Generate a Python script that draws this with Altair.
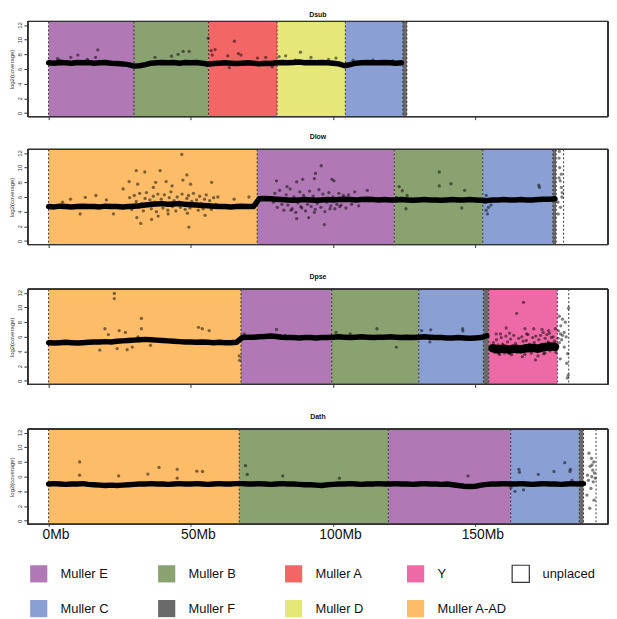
import altair as alt
import pandas as pd

FONT = "Liberation Sans"

# ---------------- categories / colours ----------------
LEGEND_NAMES = ["Muller E", "Muller B", "Muller A", "Y", "unplaced",
                "Muller C", "Muller F", "Muller D", "Muller A-AD"]
LEGEND_COLORS = ["#B078B4", "#8AA270", "#F26666", "#EE6AA6", "#FFFFFF",
                 "#8AA0D4", "#6A6A6A", "#E5E778", "#FDBC68"]

X_TICKS = [0, 50, 100, 150]
Y_TICKS = [0, 2, 4, 6, 8, 10, 12]
BAND_STEP = 2  # Mb between coverage windows of the dense band

# ---------------- element layout per species (Mb) ----------------
DSUB_NAMES = ["Muller E", "Muller B", "Muller A", "Muller D", "Muller C", "Muller F"]
DSUB_BOUNDS = [0, 30.0, 56.2, 80.3, 104.3, 124.5, 125.9]
DLOW_NAMES = ["Muller A-AD", "Muller E", "Muller B", "Muller C", "Muller F", "unplaced"]
DLOW_BOUNDS = [0, 73.3, 121.5, 152.6, 177.2, 178.4, 181.0]
DPSE_NAMES = ["Muller A-AD", "Muller E", "Muller B", "Muller C", "Muller F", "Y", "unplaced"]
DPSE_BOUNDS = [0, 67.6, 99.5, 130.1, 152.8, 154.7, 178.8, 182.8]
DATH_NAMES = ["Muller A-AD", "Muller B", "Muller E", "Muller C", "Muller F", "unplaced"]
DATH_BOUNDS = [0, 67.0, 119.4, 162.4, 186.5, 188.0, 192.4]

# ---------------- dense coverage band (log2 coverage) ----------------
DSUB_BAND = [6.85, 6.8, 6.9, 6.85, 6.8, 6.9, 6.85, 6.9, 6.8, 6.85, 6.9, 6.8, 6.75, 6.7, 6.6,
             6.4, 6.45, 6.6,
             6.8, 6.85, 6.9, 6.85, 6.9, 6.8, 6.9, 6.85, 6.9, 6.8,
             6.65, 6.75, 6.8, 6.85, 6.8, 6.75, 6.8, 6.85, 6.8, 6.7, 6.8, 6.75,
             6.85, 6.9, 6.85, 6.9, 6.95, 6.85, 6.9, 6.85, 6.9, 6.85, 6.8, 6.7,
             6.45, 6.6, 6.8, 6.85, 6.9, 6.85, 6.85, 6.9, 6.85, 6.8, 6.85]
DLOW_BAND = [4.7, 4.65, 4.75, 4.7, 4.65, 4.7, 4.75, 4.7, 4.7, 4.65,
             4.75, 4.7, 4.7, 4.65, 4.7, 4.75, 4.8, 4.9, 5.0, 5.05,
             5.1, 5.0, 5.05, 5.1, 5.0, 4.95, 4.9, 4.85, 4.8, 4.75,
             4.7, 4.7, 4.65, 4.7, 4.75, 4.7, 4.7,
             5.75, 5.8, 5.75, 5.7, 5.65, 5.6, 5.55, 5.6, 5.65, 5.6,
             5.55, 5.6, 5.65, 5.6, 5.65, 5.7, 5.65, 5.6, 5.65, 5.7,
             5.65, 5.6, 5.65, 5.6,
             5.6, 5.65, 5.6, 5.55, 5.6, 5.65, 5.6, 5.6, 5.55, 5.6, 5.65, 5.6, 5.6, 5.65, 5.6, 5.55,
             5.5, 5.6, 5.6, 5.65, 5.6, 5.6, 5.65, 5.6, 5.6, 5.65, 5.7, 5.7,
             5.75]
DPSE_BAND = [5.2, 5.15, 5.2, 5.25, 5.2, 5.15, 5.2, 5.25, 5.3, 5.3,
             5.35, 5.3, 5.4, 5.45, 5.5, 5.55, 5.6, 5.65, 5.6, 5.55,
             5.5, 5.45, 5.4, 5.35, 5.3, 5.3, 5.25, 5.3, 5.25, 5.2,
             5.25, 5.2, 5.2, 5.25,
             5.9, 5.95, 5.95, 6.0, 6.05, 6.1, 6.05, 5.95, 5.9, 5.9, 5.85, 5.9, 5.9, 5.85, 5.9, 5.9,
             5.95, 6.0, 5.95, 5.9, 5.95, 6.0, 5.95, 5.9, 5.95, 5.95, 6.0, 5.95, 5.9, 5.95, 5.9, 5.95,
             6.0, 5.95, 5.9, 5.9, 5.85, 5.85, 5.9, 5.85, 5.8, 5.85, 5.9,
             6.15]
DPSE_Y_START = 156
DPSE_Y_BAND = [4.45, 4.3, 4.4, 4.25, 4.4, 4.3, 4.45, 4.5, 4.4, 4.6, 4.7, 4.65]
DATH_BAND = [5.0, 5.05, 5.0, 4.95, 5.0, 5.0, 5.05, 4.95, 4.9, 4.85,
             4.8, 4.85, 4.8, 4.85, 4.9, 4.95, 5.0, 5.0, 5.05, 5.0,
             5.0, 4.95, 5.0, 5.05, 5.0, 5.0, 5.05, 5.0, 4.95, 5.0,
             5.05, 5.0, 5.0, 5.05,
             5.05, 5.0, 5.0, 5.05, 5.0, 4.95, 5.0, 5.05, 5.0, 5.0,
             4.95, 4.9, 4.9, 4.85, 4.8, 4.9, 4.95, 5.0, 5.0, 5.05,
             5.0, 4.95, 5.0, 5.0, 5.05, 5.0,
             5.0, 5.05, 5.0, 5.0, 4.95, 5.0, 5.05, 5.0, 5.0, 4.95,
             5.0, 4.9, 4.8, 4.7, 4.65, 4.7, 4.85, 4.95, 5.0, 5.0,
             5.05, 5.0,
             5.0, 5.05, 5.0, 4.95, 5.0, 5.05, 5.0, 5.0, 4.95, 5.0, 5.05, 5.0,
             5.05]

# ---------------- individual scattered windows: position (Mb), log2 coverage ----------------
DSUB_PTS_X = [3.1, 3.8, 7.8, 10.3, 13.6, 16.5, 17.3, 37.4, 43.2, 45.5, 47.3, 49.4,
              56.1, 57.1, 57.5, 58.5, 63.0, 63.5, 65.3, 66.7, 67.6, 73.4, 76.3, 78.6,
              81.0, 83.3, 86.8, 88.5, 92.2, 98.4, 101.0, 107.0, 114.0, 121.0]
DSUB_PTS_Y = [7.4, 7.2, 7.6, 7.9, 7.3, 7.6, 8.6, 7.6, 7.75, 8.0, 8.4, 8.4,
              10.2, 8.5, 7.9, 8.65, 7.8, 6.2, 9.8, 8.1, 7.9, 7.5, 7.6, 6.3,
              7.7, 7.8, 7.2, 8.3, 7.6, 7.3, 7.5, 7.2, 7.2, 7.1]

DLOW_PTS_X = [46.8, 30.8, 33.8, 39.2, 48.6, 28.3, 31.3, 37.6, 41.3, 43.4, 47.2, 49.9, 57.3,
              26.2, 36.8, 48.8, 49.3, 32.4, 31.0, 36.2, 38.5, 42.0, 55.0, 22.8, 11.1,
              7.7, 12.9, 16.6, 20.3, 65.2, 70.4, 4.9,
              28.5, 29.2, 30.1, 30.8, 31.5, 32.0, 32.6, 33.3, 33.9, 34.4, 35.0, 35.6, 36.1,
              36.8, 37.3, 37.9, 38.4, 39.0, 39.6, 40.2, 40.7, 41.3, 41.9, 42.4, 43.0, 43.5,
              44.1, 44.7, 45.2, 45.8, 46.3, 46.9, 47.5, 48.0, 48.6, 49.2, 49.7, 50.3, 50.9,
              51.4, 52.0, 52.6, 53.1, 53.7, 54.3, 54.8, 55.4, 56.0, 56.6, 57.2, 58.0, 58.8, 59.5,
              95.8, 93.8, 93.4, 89.3, 99.6, 100.3, 80.1, 87.2, 112.0, 83.8, 96.9, 87.2, 91.4,
              93.4, 85.2, 88.6, 98.9, 102.3, 79.0,
              79.5, 80.4, 81.2, 82.0, 82.7, 83.5, 84.1, 84.9, 85.6, 86.2, 86.9, 87.6, 88.3,
              89.0, 89.6, 90.3, 91.0, 91.7, 92.3, 93.0, 93.7, 94.4, 95.0, 95.7, 96.4, 97.1,
              97.8, 98.5, 99.2, 99.9, 100.6, 101.3, 102.0, 102.8, 103.6, 104.5, 105.4, 106.5,
              107.6, 109.0,
              123.2, 124.3, 137.3, 141.4, 146.2, 125.6, 137.3, 145.2, 122.2, 126.0,
              172.3, 172.5, 153.1, 153.8, 154.6, 154.2, 155.5, 153.8,
              179.5, 180.2, 179.4, 179.8, 180.4, 179.1, 179.6, 180.2, 179.0, 179.9, 179.4, 180.5]
DLOW_PTS_Y = [11.8, 9.6, 9.4, 9.6, 9.0, 8.1, 7.75, 8.0, 8.1, 7.5, 8.3, 7.75, 8.0,
              7.1, 7.3, 3.8, 1.9, 2.4, 3.2, 2.95, 3.4, 3.7, 3.5, 3.7, 3.7,
              5.7, 5.95, 6.2, 5.6, 5.7, 6.0, 5.3,
              5.9, 4.3, 6.2, 5.4, 4.6, 6.5, 5.1, 4.1, 5.8, 6.6, 4.8, 5.6, 4.4,
              6.1, 5.3, 4.0, 6.4, 5.0, 5.7, 4.5, 6.3, 5.2, 4.2, 5.9, 6.7, 4.7,
              5.5, 4.1, 6.0, 5.3, 4.6, 6.4, 5.0, 4.3, 5.8, 6.2, 4.5, 5.4, 6.5,
              4.8, 5.6, 4.2, 6.1, 5.1, 4.4, 5.7, 6.3, 4.9, 5.5, 4.3, 5.9, 5.0, 6.0,
              10.25, 9.2, 8.5, 8.4, 8.4, 8.2, 8.2, 8.05, 6.9, 7.4, 2.25, 3.05, 3.2,
              3.9, 4.2, 4.7, 4.4, 4.7, 5.3,
              6.5, 4.6, 6.9, 5.0, 4.2, 6.3, 4.9, 7.1, 4.4, 6.0, 3.9, 5.2, 6.7,
              4.5, 6.2, 4.1, 5.0, 6.8, 4.7, 6.1, 4.3, 5.1, 7.0, 4.6, 6.4, 4.0,
              5.3, 6.6, 4.8, 6.0, 4.4, 5.0, 6.5, 4.9, 6.2, 4.5, 6.3, 5.0,
              6.7, 4.8,
              7.4, 6.85, 9.4, 7.8, 6.9, 4.4, 7.5, 4.5, 5.95, 6.2,
              7.6, 7.3, 5.3, 4.2, 4.6, 3.7, 4.9, 6.2,
              12.2, 9.1, 8.6, 8.2, 6.0, 3.7, 10.0, 7.3, 5.3, 4.6, 11.3, 6.6]

DPSE_PTS_X = [23.1, 23.1, 32.6, 19.8, 24.8, 32.6, 52.7, 54.0, 56.4, 18.0, 24.1, 27.6,
              29.4, 35.8, 67.1, 67.0, 21.0, 31.4, 27.0,
              80.1, 83.1, 68.8, 115.4, 122.2, 101.0, 106.0,
              134.3, 131.1, 145.5, 145.6, 134.0,
              166.9, 164.5, 160.8, 167.4, 170.5, 173.4, 175.7, 157.3, 178.1,
              166.5, 171.1, 172.0, 162.7, 174.4, 158.0,
              156.3, 156.8, 157.4, 158.0, 158.5, 159.1, 159.6, 160.2, 160.7, 161.3, 161.9,
              162.4, 163.0, 163.5, 164.1, 164.6, 165.2, 165.7, 166.3, 166.8, 167.4, 167.9,
              168.5, 169.0, 169.6, 170.1, 170.7, 171.2, 171.8, 172.3, 172.9, 173.4, 174.0,
              174.5, 175.1, 175.6, 176.2, 176.7, 177.3, 177.8, 178.3, 158.8, 162.0, 168.0,
              173.8, 176.0,
              179.5, 180.6, 181.6, 180.0, 179.2, 181.2, 179.9, 180.6, 181.9, 179.1, 180.3,
              179.5, 181.2, 182.4, 179.8, 182.1, 182.6, 182.3, 182.7]
DPSE_PTS_Y = [11.9, 11.2, 8.5, 7.1, 6.85, 7.1, 7.3, 7.1, 6.85, 4.2, 4.4, 4.25,
              4.6, 4.85, 2.8, 3.4, 6.3, 6.0, 6.6,
              7.0, 6.2, 6.4, 7.1, 4.6, 6.6, 6.4,
              6.95, 6.85, 7.1, 6.8, 5.3,
              10.7, 9.2, 7.2, 7.1, 7.1, 7.0, 6.85, 6.4, 7.1,
              3.3, 2.85, 3.4, 3.55, 3.8, 3.8,
              5.2, 3.9, 5.6, 4.9, 3.6, 5.9, 5.0, 3.8, 6.1, 5.3, 3.7,
              5.7, 4.8, 6.2, 5.1, 3.9, 5.8, 4.7, 6.0, 5.4, 3.6, 5.5,
              6.3, 5.0, 3.8, 5.9, 5.2, 6.1, 4.0, 5.6, 6.2, 5.0, 3.7,
              5.8, 6.3, 5.3, 4.1, 5.9, 6.0, 5.4, 3.9, 6.4, 6.5, 6.4,
              6.6, 6.5,
              8.8, 8.4, 8.0, 7.5, 6.8, 6.6, 6.4, 6.2, 6.0, 5.8, 5.6,
              5.2, 4.6, 3.7, 3.0, 2.4, 0.8, 0.4, 9.9]

DATH_PTS_X = [10.9, 10.9, 24.6, 34.9, 38.8, 45.2, 45.2, 52.1, 54.1, 69.2, 69.8, 82.3,
              102.2, 147.4, 165.3, 165.5, 172.1, 177.6, 181.4, 183.4, 183.2, 163.9, 166.9,
              162.5, 183.9,
              189.9, 190.8, 191.6, 190.3, 191.2, 189.4, 190.9, 191.8, 189.7, 191.4, 190.6,
              189.2, 191.7, 190.2, 191.0, 192.1]
DATH_PTS_Y = [8.0, 6.2, 6.1, 6.35, 7.25, 7.0, 5.8, 6.75, 6.7, 7.5, 6.3, 6.1,
              5.8, 6.1, 7.0, 6.6, 6.3, 6.7, 7.9, 7.0, 6.7, 4.0, 4.2,
              4.5, 5.5,
              9.2, 8.5, 8.0, 7.4, 6.9, 6.2, 6.0, 6.5, 5.5, 5.3, 4.4,
              3.5, 2.8, 1.7, 7.6, 5.8]

# ---------------- geometry ----------------
W = 585
H = 96
X_DOMAIN = [-7.3, 196.6]
Y_DOMAIN = [-0.48, 12.48]

color_scale = alt.Scale(domain=LEGEND_NAMES, range=LEGEND_COLORS)
x_scale = alt.Scale(domain=X_DOMAIN, nice=False, zero=False)
y_scale = alt.Scale(domain=Y_DOMAIN, nice=False, zero=False)
band_width_scale = alt.Scale(domain=[0, 1], range=[5.5, 8.5])


def x_axis(bottom):
    if bottom:
        return alt.Axis(values=X_TICKS, labelExpr="datum.value + 'Mb'", labelFontSize=14,
                        labelColor="#111", tickSize=2, labelPadding=1, labelOffset=7,
                        domain=False, grid=False, title=None, tickColor="#333")
    return alt.Axis(values=X_TICKS, labels=False, tickSize=3, domain=False, grid=False,
                    title=None, tickColor="#333")


def y_axis():
    return alt.Axis(values=Y_TICKS, labelAngle=270, labelFontSize=6, labelColor="#333",
                    labelOverlap=False, labelBound=False, labelFlush=False,
                    labelAlign="center", labelBaseline="bottom",
                    tickSize=4, tickColor="#333", domain=False, grid=False,
                    title="log2(coverage)", titleFontSize=6, titleFontWeight="normal",
                    titleColor="#333", labelPadding=1, titlePadding=2)


def panel(title, names, bounds, bands, px, py, title_offset, bottom=False):
    regions = pd.DataFrame({"el": names, "start": bounds[:-1], "end": bounds[1:]})
    rules = pd.DataFrame({"pos": bounds})
    rows = []
    for seg, (start, vals) in enumerate(bands):
        for i, v in enumerate(vals):
            rows.append({"seg": seg, "pos": start + BAND_STEP * i, "cov": v})
    band = pd.DataFrame(rows)
    pts = pd.DataFrame({"pos": px, "cov": py})

    rect = alt.Chart(regions).mark_rect().encode(
        x=alt.X("start:Q", scale=x_scale, axis=x_axis(bottom)),
        x2="end:Q",
        y=alt.value(0), y2=alt.value(H),
        color=alt.Color("el:N", scale=color_scale, legend=None),
    )
    rule = alt.Chart(rules).mark_rule(color="#222", strokeWidth=0.9, strokeDash=[2, 2]).encode(
        x=alt.X("pos:Q", scale=x_scale, axis=x_axis(bottom)), y=alt.value(0), y2=alt.value(H))
    line = alt.Chart(band).mark_line(color="black", strokeJoin="round",
                                     strokeCap="round").encode(
        x=alt.X("pos:Q", scale=x_scale, axis=x_axis(bottom)),
        y=alt.Y("cov:Q", scale=y_scale, axis=y_axis()),
        detail="seg:N",
        strokeWidth=alt.StrokeWidth("seg:Q", scale=band_width_scale, legend=None),
    )
    dots = alt.Chart(pts).mark_circle(color="black", size=11, opacity=0.5).encode(
        x=alt.X("pos:Q", scale=x_scale, axis=x_axis(bottom)),
        y=alt.Y("cov:Q", scale=y_scale, axis=y_axis()),
    )
    frame = alt.Chart(regions).mark_rect(fill="transparent", stroke="#333", strokeWidth=1).encode(
        x=alt.value(0), x2=alt.value(W), y=alt.value(0), y2=alt.value(H))
    return alt.layer(rect, rule, line, dots, frame).properties(
        width=W, height=H,
        title=alt.TitleParams(title, fontSize=7, fontWeight="bold", offset=title_offset,
                              font=FONT, color="#111"),
    )


p1 = panel("Dsub", DSUB_NAMES, DSUB_BOUNDS, [(0, DSUB_BAND)], DSUB_PTS_X, DSUB_PTS_Y, 3)
p2 = panel("Dlow", DLOW_NAMES, DLOW_BOUNDS, [(0, DLOW_BAND)], DLOW_PTS_X, DLOW_PTS_Y, 9)
p3 = panel("Dpse", DPSE_NAMES, DPSE_BOUNDS, [(0, DPSE_BAND), (DPSE_Y_START, DPSE_Y_BAND)],
           DPSE_PTS_X, DPSE_PTS_Y, 9)
p4 = panel("Dath", DATH_NAMES, DATH_BOUNDS, [(0, DATH_BAND)], DATH_PTS_X, DATH_PTS_Y, 9,
           bottom=True)

# ---------------- legend ----------------
leg = pd.DataFrame({
    "name": LEGEND_NAMES,
    "col": [i % 5 for i in range(len(LEGEND_NAMES))],
    "row": [i // 5 for i in range(len(LEGEND_NAMES))],
})
leg_x = alt.Scale(domain=[0, 1, 2, 3, 4], range=[11, 140, 268, 391, 497])
leg_y = alt.Scale(domain=[0, 1], range=[20, 55])
sq = alt.Chart(leg).mark_square(size=300, opacity=1, strokeWidth=1.2).encode(
    x=alt.X("col:Q", scale=leg_x, axis=None),
    y=alt.Y("row:Q", scale=leg_y, axis=None),
    fill=alt.Fill("name:N", scale=color_scale, legend=None),
    stroke=alt.condition("datum.name === 'unplaced'", alt.value("#333"), alt.value("transparent")),
)
txt = alt.Chart(leg).mark_text(align="left", baseline="middle", dx=22, fontSize=13,
                               font=FONT, color="#111").encode(
    x=alt.X("col:Q", scale=leg_x, axis=None),
    y=alt.Y("row:Q", scale=leg_y, axis=None),
    text="name:N",
)
legend = alt.layer(sq, txt).properties(width=W, height=66)

chart = alt.vconcat(
    alt.vconcat(p1, alt.vconcat(p2, p3, p4, spacing=24), spacing=12),
    legend, spacing=11,
).properties(padding=0).configure_view(stroke="transparent").configure_axis(
    labelFont=FONT, titleFont=FONT
).configure_title(anchor="middle", font=FONT)

chart.save("out.html", embed_options={"renderer": "svg", "actions": False})
